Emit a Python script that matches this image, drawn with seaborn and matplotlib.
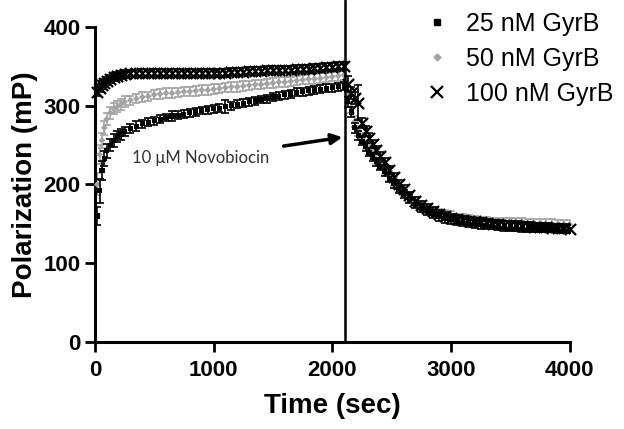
import pandas as pd
import matplotlib
matplotlib.use("Agg")
import matplotlib.pyplot as plt
import seaborn as sns
from matplotlib.lines import Line2D

# sampling times (sec), shared by the three series
time_sec = [20, 40, 60, 80, 100, 130, 160, 190, 220, 250, 300, 350, 400, 450, 500, 550,
            600, 650, 700, 750, 800, 850, 900, 950, 1000, 1050, 1100, 1150, 1200, 1250,
            1300, 1350, 1400, 1450, 1500, 1550, 1600, 1650, 1700, 1750, 1800, 1850, 1900,
            1950, 2000, 2050, 2100,
            2130, 2160, 2190, 2220, 2250, 2280, 2310, 2340, 2370, 2400, 2440, 2480, 2520,
            2560, 2600, 2650, 2700, 2750, 2800, 2850, 2900, 2950, 3000, 3050, 3100, 3150,
            3200, 3250, 3300, 3350, 3400, 3450, 3500, 3550, 3600, 3650, 3700, 3750, 3800,
            3850, 3900, 3950, 4000]

# polarization (mP)
gyrb_25 = [160, 192, 218, 233, 243, 250, 256, 261, 264, 267, 271, 274, 277, 279, 281, 283,
           285, 287, 288, 289, 291, 292, 294, 295, 296, 297, 299, 300, 302, 303, 305, 306,
           308, 309, 311, 312, 314, 315, 317, 318, 319, 320, 321, 322, 323, 324, 325,
           305, 292, 272, 262, 255, 248, 241, 235, 229, 223, 216, 208, 201, 194, 188, 181,
           175, 170, 166, 162, 159, 157, 155, 153, 152, 151, 150, 149, 148, 148, 147, 147,
           146, 146, 145, 145, 145, 144, 144, 144, 143, 143, 143]
gyrb_50 = [200, 238, 256, 272, 283, 291, 296, 299, 302, 305, 307, 309, 311, 312, 314, 315,
           316, 316, 317, 318, 318, 319, 320, 320, 321, 322, 323, 324, 324, 325, 326, 327,
           327, 328, 329, 330, 330, 331, 332, 333, 334, 334, 335, 336, 337, 338, 339,
           312, 298, 280, 268, 259, 251, 244, 238, 232, 226, 219, 211, 204, 197, 191, 184,
           178, 173, 169, 166, 163, 161, 159, 157, 156, 155, 154, 153, 153, 152, 152, 151,
           151, 151, 150, 150, 150, 150, 150, 149, 149, 149, 149]
gyrb_100 = [318, 322, 326, 329, 331, 334, 336, 338, 339, 340, 341, 341, 342, 341, 342, 342,
            341, 342, 342, 341, 342, 341, 342, 342, 341, 342, 342, 343, 343, 343, 344, 344,
            344, 345, 345, 345, 346, 346, 347, 347, 347, 348, 348, 349, 349, 350, 350,
            328, 316, 310, 304, 278, 268, 259, 251, 244, 236, 228, 219, 210, 201, 194, 186,
            179, 174, 170, 166, 162, 160, 158, 156, 155, 154, 153, 152, 151, 150, 150, 149,
            148, 148, 147, 147, 146, 146, 146, 145, 145, 145, 144]

# error bars (SD)
err_25 = [12, 15, 12, 10, 9, 8, 8, 7, 7, 6, 6, 6, 5, 5, 5, 5, 5, 6, 5, 5, 5, 5, 5, 5, 5, 5,
          8, 5, 5, 5, 5, 5, 5, 5, 5, 5, 5, 5, 5, 5, 5, 5, 5, 5, 5, 5, 5,
          6, 6, 6, 6, 5, 5, 5, 5, 5, 5, 5, 5, 5, 5, 5, 5, 5, 5, 5, 5, 5, 6, 5, 5, 5, 5, 5,
          5, 5, 5, 5, 6, 5, 5, 5, 5, 5, 5, 5, 5, 5, 5, 5]
err_50 = [14, 12, 10, 9, 8, 8, 7, 7, 7, 7, 6, 6, 6, 6, 6, 6, 6, 6, 6, 6, 6, 6, 6, 6, 6, 6,
          6, 6, 6, 6, 6, 6, 6, 6, 6, 6, 6, 6, 6, 6, 6, 6, 6, 6, 6, 6, 6,
          8, 7, 7, 6, 6, 6, 6, 6, 6, 6, 6, 6, 6, 6, 6, 6, 6, 6, 6, 6, 6, 6, 7, 6, 6, 6, 6,
          6, 6, 6, 6, 6, 6, 6, 7, 6, 6, 6, 6, 7, 6, 6, 6]
err_100 = [6, 5, 5, 5, 5, 5, 5, 5, 5, 5, 5, 5, 5, 5, 5, 5, 5, 5, 5, 5, 5, 5, 5, 5, 5, 5,
           5, 5, 5, 5, 5, 5, 5, 5, 5, 5, 5, 5, 5, 5, 5, 5, 5, 5, 5, 5, 5,
           10, 8, 8, 22, 6, 6, 6, 5, 5, 5, 5, 5, 5, 5, 5, 5, 5, 5, 5, 5, 5, 5, 5, 5, 5, 5,
           5, 5, 5, 5, 5, 5, 5, 5, 5, 5, 5, 5, 5, 5, 5, 5, 5]

labels = ["25 nM GyrB", "50 nM GyrB", "100 nM GyrB"]
novobiocin_time = 2110

sns.set_theme(style="ticks")
plt.rcParams['font.family'] = ['Liberation Sans', 'DejaVu Sans']
plt.rcParams['text.color'] = 'black'
plt.rcParams['axes.labelcolor'] = 'black'

fig, ax = plt.subplots(figsize=(6.24, 4.29), dpi=100)
fig.subplots_adjust(left=0.152, right=0.913, bottom=0.203, top=0.937)

# draw order: 50 nM (gray) under 25 nM under 100 nM
series = [
    (labels[1], gyrb_50, err_50, '#a3a3a3', 'D', 12, 0),
    (labels[0], gyrb_25, err_25, 'black', 's', 14, 0),
    (labels[2], gyrb_100, err_100, 'black', 'x', 64, 1.6),
]
for i, (name, vals, errs, color, marker, size, lw) in enumerate(series):
    df = pd.DataFrame({'time': time_sec, 'mP': vals})
    ax.errorbar(time_sec, vals, yerr=errs, fmt='none', ecolor=color, elinewidth=1.2,
                capsize=3, capthick=1.2, zorder=2 + 2 * i)
    if marker == 'x':
        sns.scatterplot(data=df, x='time', y='mP', marker='x', color=color, s=size,
                        linewidth=lw, ax=ax, zorder=3 + 2 * i, clip_on=False)
    else:
        sns.scatterplot(data=df, x='time', y='mP', marker=marker, color=color, s=size,
                        edgecolor='none', ax=ax, zorder=3 + 2 * i, clip_on=False)

ax.axvline(novobiocin_time, ymin=0, ymax=1.086, color='black', lw=1.8, clip_on=False, zorder=10)

ax.annotate('10 μM Novobiocin', xy=(2085, 260), xytext=(1470, 233),
            ha='right', va='center', fontsize=12, color='#333333', family=['Lato', 'DejaVu Sans'],
            arrowprops=dict(arrowstyle='-|>', color='black', lw=2.5, mutation_scale=16,
                            shrinkA=8, shrinkB=0))

ax.set_xlim(0, 4000)
ax.set_ylim(0, 400)
ax.set_xticks([0, 1000, 2000, 3000, 4000])
ax.set_yticks([0, 100, 200, 300, 400])
ax.set_xlabel('Time (sec)', fontsize=20, fontweight='bold', labelpad=9)
ax.set_ylabel('Polarization (mP)', fontsize=20, fontweight='bold', labelpad=4)
ax.tick_params(direction='out', length=7, width=2, labelsize=16, colors='black')
ax.tick_params(axis='x', pad=6)
for lab in ax.get_xticklabels() + ax.get_yticklabels():
    lab.set_fontweight('bold')
sns.despine(ax=ax)
for side in ['left', 'bottom']:
    ax.spines[side].set_linewidth(2.2)
    ax.spines[side].set_color('black')

handles = [
    Line2D([], [], ls='none', marker='s', color='black', markersize=4),
    Line2D([], [], ls='none', marker='D', color='#a3a3a3', markersize=3.5),
    Line2D([], [], ls='none', marker='x', color='black', markersize=9, markeredgewidth=1.6),
]
fig.legend(handles, labels, loc='upper right', bbox_to_anchor=(1.0, 0.995), frameon=False,
           borderaxespad=0, fontsize=18, handlelength=1.0, handletextpad=0.7,
           labelspacing=0.44)

fig.savefig('out.png', dpi=100)
